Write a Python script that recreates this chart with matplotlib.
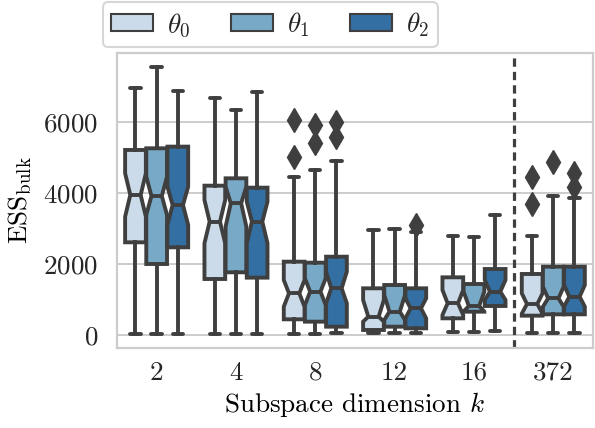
import matplotlib
matplotlib.use("Agg")
import matplotlib.pyplot as plt
import matplotlib.patches as mpatches
import seaborn as sns

# subspace dimensions on the x axis
dims = ["2", "4", "8", "12", "16", "372"]
hue_labels = [r"$\theta_0$", r"$\theta_1$", r"$\theta_2$"]

# box summaries, one entry per dimension
theta0_whishi = [6957, 6676, 4435, 2954, 2785, 2794]
theta0_q3 = [5204, 4200, 2062, 1313, 1622, 1716]
theta0_cihi = [4548, 3797, 1547, 985, 1266, 1172]
theta0_med = [3938, 3188, 1172, 516, 891, 872]
theta0_cilo = [3328, 2579, 797, 375, 563, 600]
theta0_q1 = [2607, 1575, 441, 141, 469, 544]
theta0_whislo = [28, 28, 28, 47, 75, 66]
theta0_fliers = [[], [], [6048, 4998], [], [], [4454, 3685]]

theta1_whishi = [7548, 6329, 4641, 2982, 2747, 3910]
theta1_q3 = [5251, 4407, 2034, 1406, 1434, 1922]
theta1_cihi = [4454, 4172, 1594, 1125, 1219, 1360]
theta1_med = [3910, 3704, 1219, 656, 816, 1031]
theta1_cilo = [3376, 3047, 844, 422, 660, 797]
theta1_q1 = [1997, 1763, 375, 234, 656, 581]
theta1_whislo = [28, 28, 28, 47, 75, 66]
theta1_fliers = [[], [], [5907, 5409], [], [], [4876]]

theta2_whishi = [6873, 6826, 4904, 2907, 3376, 3844]
theta2_q3 = [5298, 4144, 2203, 1313, 1856, 1922]
theta2_cihi = [4172, 3750, 1781, 1031, 1547, 1406]
theta2_med = [3657, 3188, 1313, 750, 1219, 1078]
theta2_cilo = [3094, 2579, 891, 469, 985, 797]
theta2_q1 = [2466, 1613, 234, 188, 816, 581]
theta2_whislo = [28, 28, 47, 47, 112, 66]
theta2_fliers = [[], [], [6001, 5560], [3094], [], [4548, 4154]]

series = [
    (theta0_whislo, theta0_q1, theta0_cilo, theta0_med, theta0_cihi, theta0_q3, theta0_whishi, theta0_fliers),
    (theta1_whislo, theta1_q1, theta1_cilo, theta1_med, theta1_cihi, theta1_q3, theta1_whishi, theta1_fliers),
    (theta2_whislo, theta2_q1, theta2_cilo, theta2_med, theta2_cihi, theta2_q3, theta2_whishi, theta2_fliers),
]

plt.rcParams["font.family"] = "cmr10"
plt.rcParams["mathtext.fontset"] = "cm"
plt.rcParams["axes.formatter.use_mathtext"] = True
plt.rcParams["font.size"] = 19.5
plt.rcParams["text.color"] = "0.15"

gray = "#3f3f3f"
colors = [sns.desaturate(c, 0.75) for c in sns.color_palette("Blues", 3)]

fig = plt.figure(figsize=(5.95, 4.28), dpi=100)
ax = fig.add_axes([0.1966, 0.1869, 0.80, 0.6893])

n_hue = 3
width = 0.8 / n_hue
lw = 2.8
for h, s in enumerate(series):
    whislo, q1, cilo, med, cihi, q3, whishi, fliers = s
    stats = []
    for i in range(len(dims)):
        stats.append(dict(whislo=whislo[i], q1=q1[i], cilo=cilo[i], med=med[i],
                          cihi=cihi[i], q3=q3[i], whishi=whishi[i], fliers=fliers[i]))
    pos = [i - 0.4 + width * (h + 0.5) for i in range(len(dims))]
    ax.bxp(stats, positions=pos, widths=width * 0.98, patch_artist=True,
           shownotches=True, manage_ticks=False,
           boxprops=dict(facecolor=colors[h], edgecolor=gray, linewidth=lw),
           whiskerprops=dict(color=gray, linewidth=lw),
           capprops=dict(color=gray, linewidth=lw, solid_capstyle="round"),
           medianprops=dict(color=gray, linewidth=lw),
           flierprops=dict(marker="d", markerfacecolor=gray, markeredgecolor=gray,
                           markersize=12.5, linestyle="none"))

ax.axvline(4.5, color=gray, linestyle="--", linewidth=2.3, dashes=(2.6, 1.6))

ax.set_xlim(-0.5, len(dims) - 0.5)
ax.set_ylim(-366, 7932)
ax.set_xticks(range(len(dims)))
ax.set_xticklabels(dims)
ax.set_yticks([0, 2000, 4000, 6000])
ax.yaxis.grid(True, color="#cccccc", linewidth=1.4)
ax.xaxis.grid(False)
ax.set_axisbelow(True)
for sp in ax.spines.values():
    sp.set_color("#cccccc")
    sp.set_linewidth(1.6)
ax.tick_params(axis="both", length=0, colors="0.15")
ax.tick_params(axis="y", pad=13.5)
ax.tick_params(axis="x", pad=9.5)

ax.set_xlabel(r"Subspace dimension $k$", labelpad=4)
ax.set_ylabel(r"ESS$_{\mathrm{bulk}}$", labelpad=7)

handles = [mpatches.Patch(facecolor=c, edgecolor=gray, linewidth=1.5) for c in colors]
leg = ax.legend(handles, hue_labels, loc="lower left", bbox_to_anchor=(-0.03, 1.02),
                ncol=3, frameon=True, borderaxespad=0, handlelength=1.55,
                handleheight=0.6, columnspacing=1.5, handletextpad=0.52,
                borderpad=0.3)
leg.get_frame().set_edgecolor("#cccccc")
leg.get_frame().set_linewidth(1.5)

fig.savefig("out.png", dpi=100)
